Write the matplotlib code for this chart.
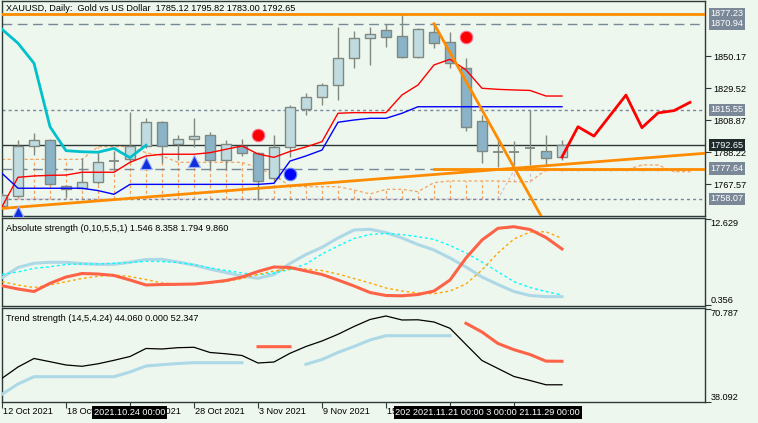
import numpy as np
import matplotlib
matplotlib.use('Agg')
import matplotlib.pyplot as plt

W, H = 758, 423
BG = '#EEF7EE'
FONT = 'Liberation Sans'
FS = 6.6

# ---------------- data ----------------
opens = [1753.7, 1760.2, 1792.4, 1795.9, 1766.6, 1765.2, 1769.2, 1782.8, 1783.6, 1792.4, 1807.5, 1793.3,
         1796.5, 1799.1, 1783.2, 1792.4, 1787.5, 1771.4, 1791.4, 1815.8, 1824.0, 1831.3, 1848.7, 1861.6,
         1866.7, 1862.9, 1849.7, 1865.8, 1859.0, 1842.2, 1808.1, 1788.6, 1788.8, 1790.9, 1789.0, 1785.12]
highs = [1762.0, 1796.1, 1800.4, 1796.7, 1767.0, 1784.7, 1787.9, 1789.0, 1814.3, 1810.0, 1808.3, 1799.3,
         1810.0, 1801.4, 1796.1, 1796.5, 1788.5, 1799.3, 1818.6, 1826.1, 1833.0, 1868.6, 1866.5, 1868.6,
         1870.6, 1877.2, 1868.0, 1870.6, 1865.4, 1848.7, 1812.2, 1796.1, 1795.5, 1815.4, 1799.3, 1795.82]
lows = [1752.0, 1759.5, 1786.4, 1767.0, 1759.1, 1764.5, 1767.5, 1777.0, 1782.0, 1791.0, 1781.0, 1783.2,
        1791.7, 1776.7, 1776.7, 1785.8, 1757.4, 1770.0, 1785.3, 1812.2, 1818.6, 1821.8, 1842.2, 1844.4,
        1856.2, 1849.1, 1849.1, 1855.1, 1842.6, 1802.1, 1781.4, 1778.9, 1780.0, 1779.9, 1779.9, 1783.00]
closes = [1760.6, 1792.4, 1795.9, 1767.5, 1764.3, 1768.8, 1781.7, 1782.4, 1792.4, 1807.5, 1792.4, 1796.5,
          1798.4, 1783.2, 1793.3, 1787.5, 1769.8, 1791.4, 1817.5, 1824.0, 1831.3, 1848.7, 1861.6, 1864.3,
          1862.2, 1849.7, 1867.4, 1858.4, 1845.5, 1804.6, 1789.2, 1788.5, 1788.2, 1790.7, 1784.7, 1792.65]

tenkan = [1753.1, 1772.05, 1772.9, 1773.3, 1773.5, 1775.3, 1775.3, 1775.3, 1781.7, 1785.8, 1786.9, 1786.9,
          1786.9, 1787.9, 1790.1, 1792.2, 1787.05, 1784.9, 1788.7, 1791.6, 1795.0, 1813.3, 1813.7, 1813.7,
          1813.7, 1825.1, 1831.5, 1844.4, 1848.05, 1841.2, 1829.4, 1828.7, 1828.3, 1828.0, 1824.4, 1824.4]
kijun = [1774.6, 1765.0, 1765.0, 1765.0, 1765.0, 1765.0, 1763.5, 1761.1, 1767.5, 1767.5, 1767.5, 1767.5,
         1767.5, 1767.5, 1767.5, 1767.5, 1767.5, 1768.2, 1782.5, 1785.8, 1789.6, 1807.5, 1808.95, 1810.05,
         1810.05, 1813.3, 1817.5, 1817.5, 1817.5, 1817.5, 1817.5, 1817.5, 1817.5, 1817.5, 1817.5, 1817.5]
chikou_shift = 26
span_a = [1783.6] * 6 + [1791.8] * 3 + [1787.9, 1785.8] + [1781.7] * 5 + [1778.0, 1773.5, 1766.4] + \
         [1766.0] * 3 + [1763.9, 1761.3, 1764.3, 1764.3, 1762.8, 1768.6] + [1769.7] * 4 + [1769.2] * 2 + \
         [1776.8] * 6 + [1780.0] * 2 + [1775.7] * 2
span_b = [1758.0] * 32 + [1776.4] * 12

forecast_x = [35, 36, 37, 39, 40, 41, 42, 43]
forecast_y = [1785.12, 1804.6, 1798.6, 1825.0, 1804.0, 1813.5, 1815.0, 1820.3]

up_trend_x = [0, 35]
up_trend_y = [1752.0, 1780.3]
down_trend_x = [27, 31]
down_trend_y = [1870.94, 1797.0]
flat_trend_start = 27
flat_trend_level = 1777.64

level_orange = 1877.23
level_long_dash = [1870.94, 1777.64]
level_short_dash = [1815.55, 1758.07]
bid = 1792.65
grey_labels = [1877.23, 1870.94, 1815.55, 1777.64, 1758.07]
price_ticks = [1850.17, 1829.52, 1808.87, 1788.22, 1767.57]

red_dots_x, red_dots_y = [16, 29], [1799.3, 1862.2]
blue_dots_x, blue_dots_y = [18], [1774.0]
arrows_x, arrows_y = [1, 9, 12], [1749.9, 1781.45, 1782.5]

abs_lb = [4.25, 5.71, 6.31, 6.45, 6.45, 6.26, 6.16, 6.16, 6.46, 6.85, 6.88, 6.49, 6.06, 5.47, 4.98, 4.49,
          4.17, 4.71, 6.28, 7.56, 8.59, 9.92, 11.06, 11.16, 10.70, 9.92, 8.99, 8.21, 7.06, 5.78, 4.35,
          3.28, 2.28, 1.71, 1.55, 1.546]
abs_tomato = [3.11, 2.64, 2.28, 3.45, 4.35, 4.85, 4.78, 4.57, 3.92, 3.21, 3.28, 3.31, 3.35, 3.57, 3.85,
              4.35, 5.14, 5.78, 5.71, 5.21, 4.71, 3.92, 3.07, 2.14, 1.71, 1.67, 1.85, 2.35, 3.92, 7.06,
              9.63, 11.30, 11.53, 11.13, 9.99, 8.358]
abs_cyan = [4.74, 5.07, 5.59, 5.82, 6.14, 6.21, 6.21, 6.31, 6.42, 6.59, 6.56, 6.42, 6.11, 5.66, 5.28,
            4.92, 4.67, 4.92, 5.42, 6.21, 7.63, 8.78, 9.85, 10.42, 10.56, 10.42, 10.10, 9.73, 8.85,
            7.78, 6.49, 5.09, 3.68, 2.85, 2.28, 1.794]
abs_orange = [3.68, 3.21, 2.85, 3.21, 3.68, 4.14, 4.45, 4.64, 4.42, 3.99, 3.50, 3.35, 3.35, 3.50, 3.71,
              4.14, 4.71, 5.21, 5.45, 5.49, 5.28, 4.78, 4.14, 3.50, 2.78, 2.35, 2.07, 1.97, 2.35, 3.35,
              5.35, 7.78, 9.77, 10.77, 10.82, 9.860]
abs_range = [0.356, 12.629]

nan = float('nan')
ts_black = [46.34, 50.33, 53.33, 52.20, 51.04, 50.58, 51.46, 52.69, 54.03, 56.86, 56.68, 57.14, 57.28,
            55.45, 54.99, 54.39, 51.74, 52.09, 55.16, 57.56, 59.50, 61.86, 64.61, 67.08, 68.32, 66.91,
            66.98, 66.20, 63.98, 58.27, 52.62, 49.80, 46.98, 45.57, 44.06, 44.060]
ts_lb = [40.70, 44.33, 46.91, 46.91, 46.91, 46.91, 46.91, 46.91, 48.57, 50.68, 51.14, 51.56, 51.85, 51.85,
         51.85, 51.85, nan, nan, nan, 51.28, 52.98, 55.45, 57.56, 59.85, 61.37, 61.37, 61.37, 61.37, 61.37,
         nan, nan, nan, nan, nan, nan, nan]
ts_tomato = [nan] * 16 + [57.49, 57.49, 57.49] + [nan] * 10 + [65.74, 62.67, 58.62, 56.43, 54.74, 52.40, 52.347]
ts_range = [38.092, 70.787]

date_ticks = [0, 4, 8, 12, 16, 20, 24, 28, 32]
date_labels = ['12 Oct 2021', '18 Oct 2021', '22 Oct 2021', '28 Oct 2021', '3 Nov 2021', '9 Nov 2021',
               '15 Nov 2021', '', '']
vline_labels = ['2021.10.24 00:00', '202 2021.11.21 00:00 3 00:00 21.11.29 00:00']
vline_label_px = [94, 395.5]

title_main = 'XAUUSD, Daily:  Gold vs US Dollar  1785.12 1795.82 1783.00 1792.65'
title_abs = 'Absolute strength (0,10,5,5,1) 1.546 8.358 1.794 9.860'
title_ts = 'Trend strength (14,5,4.24) 44.060 0.000 52.347'

# ---------------- layout ----------------
plt.rcParams['font.family'] = [FONT, 'DejaVu Sans']
fig = plt.figure(figsize=(W / 100, H / 100), dpi=100, facecolor=BG)


def rect(x0, y0, x1, y1):
    return [x0 / W, 1 - y1 / H, (x1 - x0) / W, (y1 - y0) / H]


def fx(x):
    return x / W


def fy(y):
    return 1 - y / H


SP = '#2C3A3A'
ax = fig.add_axes(rect(1.7, 1.5, 705, 216))
a1 = fig.add_axes(rect(1.7, 218.3, 705, 306))
a2 = fig.add_axes(rect(1.7, 308.3, 705, 402.3))
XL = (-0.019, 43.94)
for a in (ax, a1, a2):
    a.set_facecolor(BG)
    a.set_xlim(*XL)
    for s in a.spines.values():
        s.set_color(SP)
        s.set_linewidth(1)
    a.yaxis.tick_right()
    a.tick_params(axis='y', direction='out', length=4, width=0.8, color=SP, labelsize=FS,
                  labelcolor='black', pad=2)
    a.tick_params(axis='x', bottom=False, labelbottom=False)

ax.set_ylim(1747.12, 1885.28)
a1.set_ylim(0.213, 12.73)
a2.set_ylim(37.88, 71.03)

# ---------------- main chart ----------------
n = len(closes)
xs = np.arange(n)
SANDY, THISTLE = '#F4A460', '#D8BFD8'
cx = np.arange(len(span_a))
for i in cx:
    a_, b_ = span_a[i], span_b[i]
    ax.vlines(i, min(a_, b_), max(a_, b_), color=SANDY if a_ >= b_ else THISTLE, lw=0.9,
              linestyles=(0, (2.5, 2)), zorder=1)
ax.plot(cx, span_b, color=THISTLE, lw=0.9, ls=(0, (2.5, 2)), zorder=1.1)
ax.plot(cx, span_a, color=SANDY, lw=0.9, ls=(0, (2.5, 2)), zorder=1.1)

GREY = '#778899'
for lv in level_long_dash:
    ax.axhline(lv, color=GREY, lw=1, ls=(0, (7, 4)), zorder=1.5)
for lv in level_short_dash:
    ax.axhline(lv, color=GREY, lw=1, ls=(0, (2.2, 2.2)), zorder=1.5)
ax.axhline(bid, color='#2C3A3A', lw=1, zorder=1.6)
ax.axhline(level_orange, color='#FF8C00', lw=2, zorder=5)

EDGE = '#808880'
BULL, BEAR = '#C1DCE1', '#8BB3C8'
o, h, l, c = map(np.asarray, (opens, highs, lows, closes))
ax.vlines(xs, l, h, color=EDGE, lw=1, zorder=2.9)
for i in range(n):
    if abs(c[i] - o[i]) < 0.8:
        ax.hlines((o[i] + c[i]) / 2, i - 0.31, i + 0.31, color=EDGE, lw=1.3, zorder=3)
    else:
        ax.bar(i, abs(c[i] - o[i]), bottom=min(o[i], c[i]), width=0.6,
               color=BULL if c[i] > o[i] else BEAR, edgecolor=EDGE, lw=1, zorder=3)

ax.plot(xs, tenkan, color='#FF0000', lw=1, zorder=4)
ax.plot(xs, kijun, color='#0000FF', lw=1, zorder=4)
ax.plot(xs[:n - chikou_shift], closes[chikou_shift:], color='#00C0CC', lw=2, zorder=4)

# trend lines
xe = np.array([XL[0], XL[1]])
k_up = (up_trend_y[1] - up_trend_y[0]) / (up_trend_x[1] - up_trend_x[0])
ax.plot(xe, up_trend_y[0] + k_up * (xe - up_trend_x[0]), color='#FF8C00', lw=2, zorder=5)
k_dn = (down_trend_y[1] - down_trend_y[0]) / (down_trend_x[1] - down_trend_x[0])
xd = np.array([down_trend_x[0], 37])
ax.plot(xd, down_trend_y[0] + k_dn * (xd - down_trend_x[0]), color='#FF8C00', lw=2, zorder=5)
ax.plot([flat_trend_start, XL[1]], [flat_trend_level, flat_trend_level], color='#FF8C00', lw=2, zorder=5)

ax.plot(forecast_x, forecast_y, color='#FF0000', lw=2, zorder=6)

ax.plot(red_dots_x, red_dots_y, 'o', color='#FF0000', mec='#FF7090', mew=0.8, ms=9, zorder=7)
ax.plot(blue_dots_x, blue_dots_y, 'o', color='#0000FF', mec='#6080FF', mew=0.8, ms=9, zorder=7)
ax.plot(arrows_x, arrows_y, '^', color='#1030E0', mec='#A0B0FF', mew=0.8, ms=8, zorder=7)

ax.set_yticks(price_ticks)
ax.set_yticklabels([f'{v:.2f}' for v in price_ticks], family=FONT)

ytr = ax.get_yaxis_transform()
for lv in grey_labels:
    ax.text(1.0075, lv, f'{lv:.2f}', transform=ytr, va='center', ha='left', fontsize=FS, color='white',
            bbox=dict(boxstyle='square,pad=0.18', fc='#7B8898', ec='none'), clip_on=False, zorder=10)
ax.text(1.0075, bid, f'{bid:.2f}', transform=ytr, va='center', ha='left', fontsize=FS, color='white',
        bbox=dict(boxstyle='square,pad=0.18', fc='#1E2A2A', ec='none'), clip_on=False, zorder=10)

# ---------------- absolute strength ----------------
a1.plot(xs, abs_lb, color='#ADD8E6', lw=2.2, zorder=3)
a1.plot(xs, abs_cyan, color='#00FFFF', lw=1, ls=(0, (2, 2)), zorder=3)
a1.plot(xs, abs_orange, color='#FFA500', lw=1, ls=(0, (2, 2)), zorder=3)
a1.plot(xs, abs_tomato, color='#FF6347', lw=2.2, zorder=4)
a1.set_yticks(abs_range)
a1.set_yticklabels([])
t1 = a1.get_yaxis_transform()
a1.text(1.0075, abs_range[1], f'{abs_range[1]:.3f}', transform=t1, va='top', ha='left', fontsize=FS, clip_on=False)
a1.text(1.0075, abs_range[0], f'{abs_range[0]:.3f}', transform=t1, va='bottom', ha='left', fontsize=FS, clip_on=False)

# ---------------- trend strength ----------------
a2.plot(xs, ts_lb, color='#ADD8E6', lw=2.2, zorder=3)
a2.plot(xs, ts_tomato, color='#FF6347', lw=2.2, zorder=3)
a2.plot(xs, ts_black, color='black', lw=0.9, zorder=4)
a2.set_yticks(ts_range)
a2.set_yticklabels([])
t2 = a2.get_yaxis_transform()
a2.text(1.0075, ts_range[1], f'{ts_range[1]:.3f}', transform=t2, va='top', ha='left', fontsize=FS, clip_on=False)
a2.text(1.0075, ts_range[0], f'{ts_range[0]:.3f}', transform=t2, va='bottom', ha='left', fontsize=FS, clip_on=False)
a2.set_xticks(date_ticks)
a2.tick_params(axis='x', bottom=True, direction='out', length=4, width=0.8, color=SP, labelbottom=False)

# ---------------- texts ----------------
fig.text(fx(6.5), fy(8.8), title_main, va='center', ha='left', fontsize=FS, color='black')
fig.text(fx(6.5), fy(228.3), title_abs, va='center', ha='left', fontsize=FS, color='black')
fig.text(fx(6.5), fy(318.3), title_ts, va='center', ha='left', fontsize=FS, color='black')

for t, lab in zip(date_ticks, date_labels):
    if not lab:
        continue
    px = 1.7 + (t - XL[0]) / (XL[1] - XL[0]) * (705 - 1.7)
    fig.text(fx(px + 1), fy(411.5), lab, va='center', ha='left', fontsize=FS, color='black', zorder=5)

for k, (lab, px) in enumerate(zip(vline_labels, vline_label_px)):
    fig.text(fx(px), fy(412.3), lab, va='center', ha='left', fontsize=FS, color='white', zorder=6 + k,
             bbox=dict(boxstyle='square,pad=0.2', fc='black', ec='none'))

fig.savefig('out.png', dpi=100, facecolor=BG)
